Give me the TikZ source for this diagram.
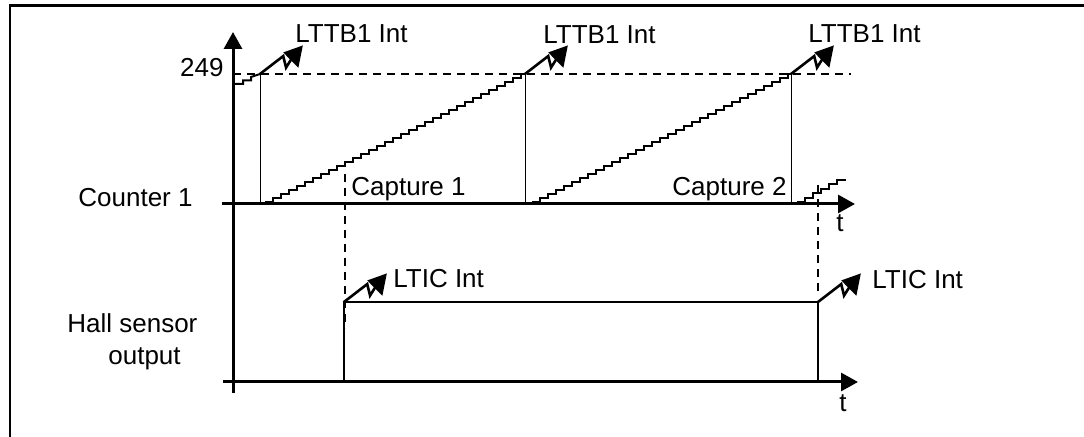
\documentclass[tikz,border=0pt]{standalone}
\usepackage{fontspec}
\setmainfont{Liberation Sans}
\usetikzlibrary{arrows.meta}
\begin{document}
\begin{tikzpicture}[x=0.5pt,y=-0.5pt,
  lab/.style={font=\fontsize{13}{15}\selectfont, inner sep=0pt, anchor=base west},
  axisline/.style={line width=1.5pt, -{Triangle[length=8.5pt,width=9pt]}},
  ramp/.style={line width=1pt, line join=miter},
  resetline/.style={line width=0.5pt},
  guide/.style={line width=1pt, dash pattern=on 4pt off 3pt},
  sig/.style={line width=1.3pt, line join=miter},
  framed/.style={line width=1.2pt},
  pics/bolt/.style={code={
    \begin{scope}[x={(0.42pt,0.28pt)},y={(-0.28pt,0.42pt)}]
      \draw[line width=1.3pt, line join=miter, miter limit=6] (0,0) -- (29,2) -- (25,-9) -- (34,-5);
      \fill (51,0) -- (31,5) -- (35,-16) -- cycle;
    \end{scope}}}]
\useasboundingbox (0,0) rectangle (1084,437);

% frame
\draw[framed] (10,445) -- (10,5.5) -- (1095,5.5);

% coordinates
\coordinate (ybot) at (233,393);
\coordinate (ytop) at (233,32);
\coordinate (c0) at (222,204);
\coordinate (c1) at (855,204);
\coordinate (h0) at (223,382);
\coordinate (h1) at (858,382);
\coordinate (d0) at (233,74);
\coordinate (d1) at (851,74);

% axes
\draw[axisline] (ybot) -- (ytop);
\draw[axisline] (c0) -- (c1);
\draw[axisline] (h0) -- (h1);

% 249 dashed level
\draw[guide] (d0) -- (d1);

% counter ramps
\coordinate (r1) at (260,74);
\coordinate (r2) at (525,74);
\coordinate (r3) at (791,74);
\draw[ramp] (235,84) -| ++(8,-3.5) -| ++(8,-3.5) -- (r1);
\draw[ramp] (265,202) \foreach \i in {1,...,32} { -| ++(8,-4) } -- (r2);
\draw[ramp] (532,202) \foreach \i in {1,...,32} { -| ++(8,-4) } -- (r3);
\draw[ramp] (797,202) \foreach \i in {1,...,5} { -| ++(8,-4.4) } -- ++(9,0);

% resets
\draw[resetline] (r1) -- (r1 |- c0);
\draw[resetline] (r2) -- (r2 |- c0);
\draw[resetline] (r3) -- (r3 |- c0);

% hall signal
\coordinate (e1) at (344,302);
\coordinate (e2) at (818,302);
\draw[sig] (e1 |- h0) -- (e1) -- (e2) -- (e2 |- h0);

% capture guides
\draw[guide] (345,174) -- (345,328);
\draw[guide] (818,185) -- (818,296);

% interrupt bolts
\pic at (r1) {bolt};
\pic at (r2) {bolt};
\pic at (r3) {bolt};
\pic at (e1) {bolt};
\pic at (e2) {bolt};

% labels
\node[lab] (lc) at (78,207) {Counter 1};
\node[lab] (lh1) at (67,333) {Hall sensor};
\node[lab] (lh2) at (108,365) {output};
\node[lab, anchor=base east] (l249) at (224,77) {249};
\node[lab] (li1) at (295,43) {LTTB1 Int};
\node[lab] (li2) at (543,44) {LTTB1 Int};
\node[lab] (li3) at (808,43) {LTTB1 Int};
\node[lab] (lcap1) at (351,196) {Capture 1};
\node[lab, anchor=base east] (lcap2) at (787,196) {Capture 2};
\node[lab] (ltic1) at (393,288) {LTIC Int};
\node[lab] (ltic2) at (872,289) {LTIC Int};
\node[lab] (t1) at (836,232) {t};
\node[lab] (t2) at (839,412) {t};
\end{tikzpicture}
\end{document}
